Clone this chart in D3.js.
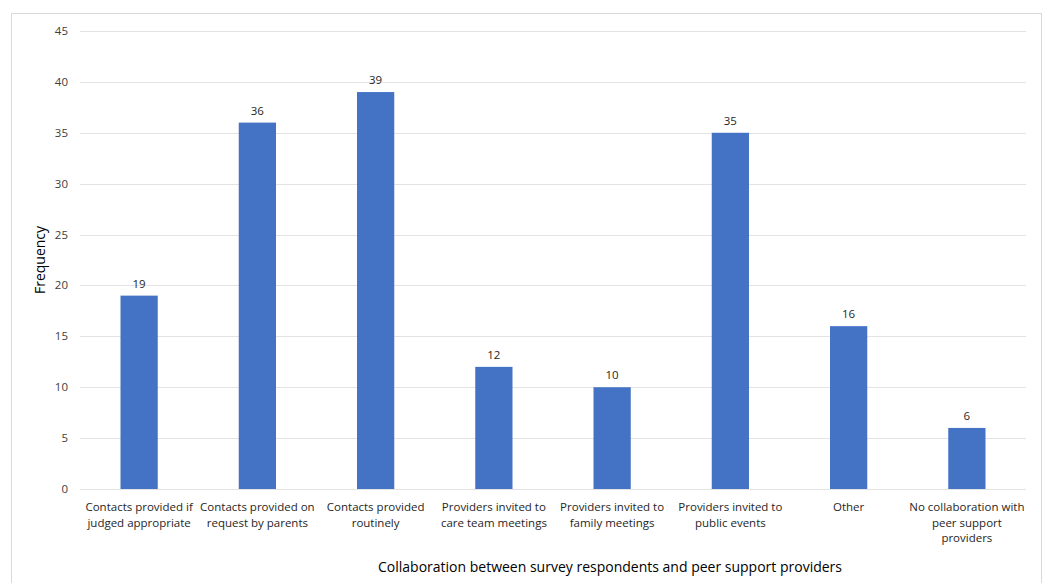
<!DOCTYPE html>
<html><head><meta charset="utf-8">
<script src="https://cdn.jsdelivr.net/npm/d3@7"></script>
<style>body{margin:0;background:#fff;} svg{display:block;font-family:"Open Sans","Noto Sans",sans-serif;}</style>
</head><body><svg id="c" width="1048" height="583"></svg>
<script>
const categories = [
  ["Contacts provided if","judged appropriate"],
  ["Contacts provided on","request by parents"],
  ["Contacts provided","routinely"],
  ["Providers invited to","care team meetings"],
  ["Providers invited to","family meetings"],
  ["Providers invited to","public events"],
  ["Other"],
  ["No collaboration with","peer support","providers"]
];
const values = [19, 36, 39, 12, 10, 35, 16, 6];
const yTicks = [0,5,10,15,20,25,30,35,40,45];
const xTitle = "Collaboration between survey respondents and peer support providers";
const yTitle = "Frequency";

const svg = d3.select("#c");
svg.append("rect").attr("x",11.5).attr("y",13.5).attr("width",1030).attr("height",600)
  .attr("fill","#fff").attr("stroke","#d9d9d9").attr("stroke-width",1);

const L=80, R=1026, T=31, B=489;
const x = d3.scaleBand().domain(d3.range(categories.length)).range([L,R]).padding(0);
const y = d3.scaleLinear().domain([0,45]).range([B,T]);
const bw = x.bandwidth()*0.315;

svg.append("g").selectAll("line").data(yTicks).join("line")
  .attr("x1",L).attr("x2",R).attr("y1",d=>Math.round(y(d))+0.5).attr("y2",d=>Math.round(y(d))+0.5)
  .attr("stroke","#e3e3e3").attr("stroke-width",1);

svg.append("g").selectAll("text").data(yTicks).join("text")
  .attr("x",68).attr("y",d=>y(d)).attr("dy","0.35em").attr("text-anchor","end")
  .attr("font-size",11.5).attr("fill","#404040").text(d=>d);

svg.append("g").selectAll("rect").data(values).join("rect")
  .attr("x",(d,i)=>x(i)+x.bandwidth()/2-bw/2).attr("width",bw)
  .attr("y",d=>y(d)).attr("height",d=>B-y(d)).attr("fill","#4472C4");

svg.append("g").selectAll("text").data(values).join("text")
  .attr("x",(d,i)=>x(i)+x.bandwidth()/2).attr("y",d=>y(d)-8)
  .attr("text-anchor","middle").attr("font-size",11.5).attr("fill","#262626").text(d=>d);

const xl = svg.append("g").selectAll("text").data(categories).join("text")
  .attr("x",(d,i)=>x(i)+x.bandwidth()/2).attr("y",511)
  .attr("text-anchor","middle").attr("font-size",11.5).attr("fill","#262626");
xl.selectAll("tspan").data(d=>d).join("tspan")
  .attr("x",function(){return this.parentNode.getAttribute("x");})
  .attr("dy",(d,i)=>i===0?0:15.5).text(d=>d);

svg.append("text").attr("x",610).attr("y",572).attr("text-anchor","middle")
  .attr("font-size",14).attr("fill","#000").text(xTitle);
svg.append("text").attr("transform","translate(45,260) rotate(-90)").attr("text-anchor","middle")
  .attr("font-size",14).attr("fill","#000").text(yTitle);
</script></body></html>
